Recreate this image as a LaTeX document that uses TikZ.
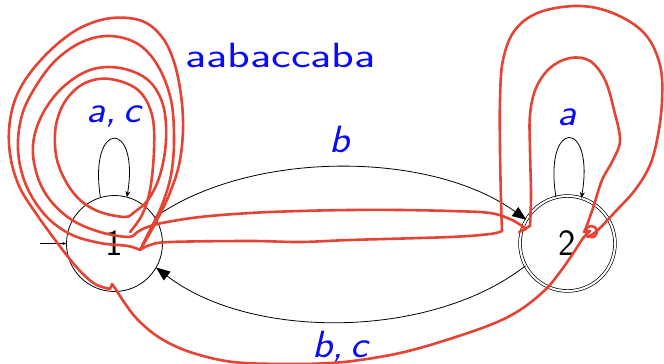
\documentclass[tikz,border=0pt]{standalone}
\usepackage{fontspec}
\usepackage{graphicx}
\usetikzlibrary{arrows.meta}
\definecolor{tracered}{RGB}{229,68,52}
\definecolor{lblblue}{RGB}{10,10,250}
\begin{document}
\begin{tikzpicture}[x=1pt,y=-1pt,
  stnode/.style={circle,draw,line width=0.8pt,minimum size=96pt,inner sep=0pt,outer sep=0pt,font=\fontsize{37}{40}\selectfont\sffamily},
  accepting/.style={double,double distance=2pt,line width=0.7pt,minimum size=95pt},
  trans/.style={line width=0.8pt,-{Triangle[length=14pt,width=11pt]}},
  loopedge/.style={line width=0.8pt,-{Stealth[length=6pt,width=5pt]}},
  lbl/.style={text=lblblue,font=\fontsize{38}{40}\selectfont\sffamily\itshape,anchor=base,inner sep=0pt},
  wordlbl/.style={text=lblblue,font=\fontsize{35}{40}\selectfont\sffamily,anchor=base,inner sep=0pt},
  trace/.style={draw=tracered,line width=2.6pt,line cap=round,line join=round}]
\useasboundingbox (0,0) rectangle (664,364);

\node[stnode] (s1) at (114.5,243.5) {1};
\node[stnode,accepting] (s2) at (567.5,243.5) {2};
\coordinate (init) at (40,243.5);
\draw[line width=0.8pt,-{Stealth[length=4pt,width=3pt]}] (init) -- (s1.west);

\draw[trans] (s1.33) .. controls (250,150) and (430,150) .. (s2.150);
\draw[trans] (s2.208) .. controls (430,340) and (250,340) .. (s1.-30);
\draw[loopedge] (s1.107) .. controls (88,119) and (140,119) .. (s1.75);
\draw[loopedge] (s2.104) .. controls (543,118) and (595,118) .. (s2.73);

\node[lbl] (lac) at (114,122) {\scalebox{1.1}[1]{a,\,c}};
\node[lbl] (la) at (567,125) {\scalebox{1.1}[1]{a}};
\node[lbl] (lb) at (340,152) {\scalebox{1.1}[1]{b}};
\node[lbl] (lbc) at (340,357) {\scalebox{1.1}[1]{b,\,c}};
\node[wordlbl] (word) at (280.5,67) {\scalebox{1.34}[1]{aabaccaba}};

% red trace of the word
\draw[trace] plot[smooth,tension=0.6] coordinates {(130,232) (142,215) (150,190) (154,150) (152,115) (138,90) (110,79) (85,83) (66,100) (56,125) (56,155) (65,180) (80,200) (100,212) (125,217) (133,213)};
\draw[trace] plot[smooth,tension=0.6] coordinates {(133,213) (148,200) (160,175) (166,140) (163,105) (148,80) (120,68) (90,70) (62,88) (42,115) (33,145) (37,175) (50,200) (72,220) (100,232) (128,237) (136,233)};
\draw[trace] plot[smooth,tension=0.6] coordinates {(136,233) (145,228) (162,223) (200,217) (250,213) (300,211) (350,210) (400,210) (450,211) (490,213) (512,220) (526,229)};
\draw[trace] (526,229) -- (519,232) -- (530,226);
\draw[trace] plot[smooth,tension=0.6] coordinates {(530,226) (531,195) (530,150) (530,115) (536,88) (550,68) (570,58) (590,61) (605,80) (614,110) (620,140) (613,160) (602,180) (594,205) (587,225) (584,232)};
\draw[trace] (584,232) -- (590,231) -- (583,238);
\draw[trace] plot[smooth,tension=0.6] coordinates {(583,238) (572,255) (560,272) (545,290) (520,310) (490,325) (440,342) (400,353) (360,360) (330,363) (290,364) (233,362) (190,352) (160,338) (138,320) (124,302) (115,288)};
\draw[trace] (115,288) -- (112,284) -- (110,289);
\draw[trace] plot[smooth,tension=0.6] coordinates {(110,289) (95,284) (80,271) (65,253) (50,233) (35,212) (20,188) (11,160) (9,130) (15,100) (30,73) (55,46) (82,27) (112,18) (142,21) (162,37) (174,62) (181,95) (183,130) (179,165) (169,195) (157,220) (146,240) (140,250)};
\draw[trace] plot[smooth,tension=0.6] coordinates {(140,250) (150,230) (162,205) (171,175) (174,140) (171,100) (158,66) (138,44) (110,36) (82,42) (56,60) (36,86) (22,115) (18,150) (26,185) (45,215) (70,234) (100,243) (128,246) (140,250)};
\draw[trace] plot[smooth,tension=0.6] coordinates {(140,250) (150,245) (170,242) (250,241) (300,242) (350,240) (450,237) (490,234) (502,231)};
\draw[trace] plot[smooth,tension=0.6] coordinates {(502,231) (501,200) (500,150) (500,100) (503,60) (515,30) (540,12) (580,6) (615,14) (645,34) (660,65) (662,100) (658,135) (650,165) (635,190) (615,212) (598,230) (588,237)};
\draw[trace] plot[smooth,tension=0.8] coordinates {(588,237) (586,230) (591,226) (597,230) (594,237) (589,236)};
\end{tikzpicture}
\end{document}
